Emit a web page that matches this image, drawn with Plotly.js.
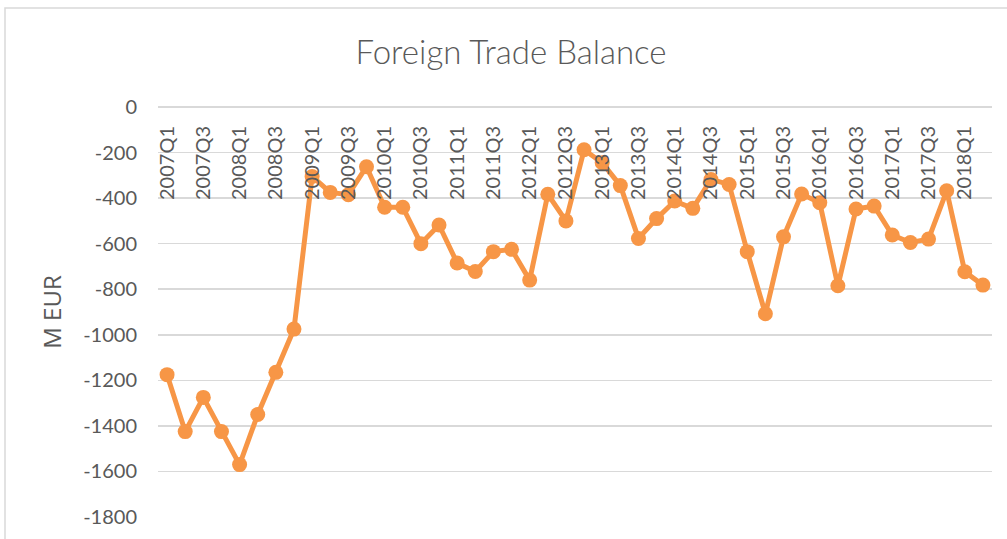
<!DOCTYPE html>
<html>
<head>
<meta charset="utf-8">
<script src="https://cdn.plot.ly/plotly-3.0.1.min.js"></script>
<style>html,body{margin:0;padding:0;background:#fff;}#chart{width:1007px;height:539px;}</style>
</head>
<body>
<div id="chart"></div>
<script>
const years = [2007, 2008, 2009, 2010, 2011, 2012, 2013, 2014, 2015, 2016, 2017, 2018];
const quartersPerYear = ["Q1", "Q2", "Q3", "Q4"];
const lastQuarterIndex = 45; // 2018Q2
const quarters = [];
years.forEach(y => quartersPerYear.forEach(q => quarters.push(y + q)));
const categories = quarters.slice(0, lastQuarterIndex + 1);

const balance = [
  -1175, -1425, -1275, -1425, -1570, -1350, -1165, -975,
  -305, -375, -385, -262, -440, -440, -600, -518,
  -685, -722, -635, -625, -760, -383, -500, -188,
  -245, -345, -577, -490, -413, -445, -318, -340,
  -635, -908, -570, -382, -420, -785, -448, -435,
  -562, -595, -580, -368, -723, -782
];

const tickLabels = categories.filter((c, i) => i % 2 === 0);
const yTicks = [0, -200, -400, -600, -800, -1000, -1200, -1400, -1600, -1800];

const orange = "#F79646";
const grey = "#595959";
const grid = "#D9D9D9";

const trace = {
  type: "scatter",
  mode: "lines+markers",
  x: categories,
  y: balance,
  line: {color: orange, width: 5},
  marker: {color: orange, size: 15},
  hoverinfo: "x+y"
};

const layout = {
  width: 1007,
  height: 539,
  margin: {l: 158, r: 15, t: 107, b: 22},
  paper_bgcolor: "#ffffff",
  plot_bgcolor: "#ffffff",
  showlegend: false,
  font: {family: "Lato, 'Open Sans', sans-serif", color: grey},
  title: {
    text: "Foreign Trade Balance",
    font: {family: "Lato, 'Open Sans', sans-serif", size: 33, color: grey, weight: 300},
    x: 511 / 1007, xref: "container", xanchor: "center",
    y: 1 - 52 / 539, yref: "container", yanchor: "middle"
  },
  xaxis: {
    type: "category",
    categoryorder: "array",
    categoryarray: categories,
    anchor: "free",
    position: 1,
    side: "bottom",
    tickmode: "array",
    tickvals: tickLabels,
    ticktext: tickLabels,
    tickangle: -90,
    ticks: "",
    ticklabelstandoff: 14,
    tickfont: {size: 20, color: grey},
    showgrid: false,
    zeroline: false,
    showline: false,
    range: [-0.5, categories.length - 0.5],
    fixedrange: true
  },
  yaxis: {
    range: [-1800, 0],
    tickmode: "array",
    tickvals: yTicks,
    ticktext: yTicks.map(String),
    tickfont: {size: 20, color: grey},
    ticks: "",
    ticklabelstandoff: 20,
    showgrid: true,
    gridcolor: grid,
    gridwidth: 1.5,
    zeroline: true,
    zerolinecolor: grid,
    zerolinewidth: 1.5,
    showline: false,
    title: {text: "M EUR", font: {family: "'Open Sans', Lato, sans-serif", size: 24, color: grey}, standoff: 14},
    fixedrange: true
  },
  shapes: [{
    type: "rect",
    xref: "paper", yref: "paper",
    x0: (5 - 158) / 834, x1: (1012 - 158) / 834,
    y0: (517 - 560) / 410, y1: (517 - 8) / 410,
    line: {color: "#D9D9D9", width: 1.5},
    fillcolor: "rgba(0,0,0,0)",
    layer: "below"
  }]
};

Plotly.newPlot("chart", [trace], layout, {displayModeBar: false, staticPlot: true});
</script>
</body>
</html>
